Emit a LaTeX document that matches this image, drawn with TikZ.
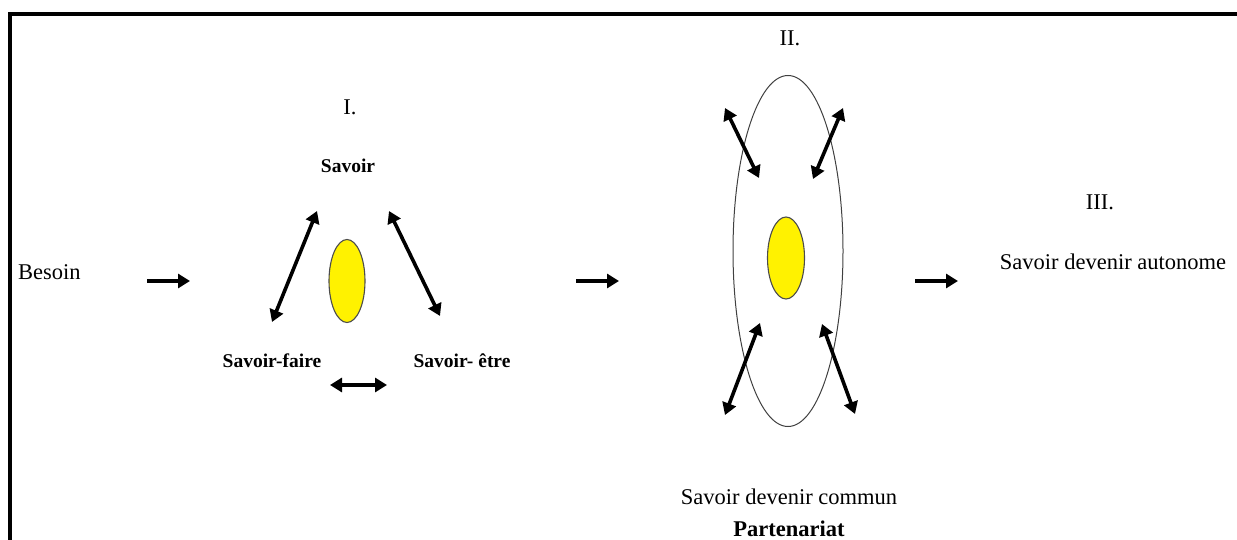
\documentclass[tikz,border=0pt]{standalone}
\usepackage{fontspec}
\setmainfont{Liberation Serif}
\usetikzlibrary{arrows.meta,shapes.geometric}
\tikzset{
  big/.style={font=\fontsize{22.5}{26}\selectfont, inner sep=0pt},
  lbl/.style={font=\bfseries\fontsize{19.5}{23}\selectfont, inner sep=0pt},
  core/.style={ellipse, draw=black!70, line width=1.1pt, fill=yellow, inner sep=0pt},
  dbl/.style={line width=3.6pt, {Triangle[length=12pt,width=14pt]}-{Triangle[length=12pt,width=14pt]}},
  sgl/.style={line width=3.6pt, -{Triangle[length=12pt,width=14pt]}},
}
\begin{document}
\begin{tikzpicture}[x=1pt,y=-1pt]
\useasboundingbox (0,0) rectangle (1237,540);
% frame
\draw[line width=3.2pt] (10,540) -- (10,14) -- (1237,14);
% texts
\node[big, anchor=west] (besoin) at (18,272) {Besoin};
\node[big] (t1) at (350,107) {I.};
\node[lbl] (sav) at (348,166) {Savoir};
\node[lbl] (sf) at (272,361) {Savoir-faire};
\node[lbl] (se) at (462,361) {Savoir- être};
\node[big] (t2) at (790,38) {II.};
\node[big] (sdc) at (789,497) {Savoir devenir commun};
\node[big, font=\bfseries\fontsize{22.5}{26}\selectfont] (part) at (789,529) {Partenariat};
\node[big] (t3) at (1100,202) {III.};
\node[big] (sda) at (1113,262) {Savoir devenir autonome};
% section I
\node[core, minimum width=36pt, minimum height=83pt] (c1) at (347,281) {};
\coordinate (a1) at (272,322); \coordinate (a2) at (317,211);
\coordinate (b1) at (389,211); \coordinate (b2) at (440,316);
\coordinate (h1) at (330,385); \coordinate (h2) at (387,385);
\draw[dbl] (a1) -- (a2);
\draw[dbl] (b1) -- (b2);
\draw[dbl] (h1) -- (h2);
% section II
\node[ellipse, draw=black!75, line width=1pt, minimum width=110pt, minimum height=351pt, inner sep=0pt] (ring) at (788,251) {};
\node[core, minimum width=37pt, minimum height=82pt] (c2) at (786,258) {};
\coordinate (p1) at (725,108); \coordinate (p2) at (759,178);
\coordinate (q1) at (843,108); \coordinate (q2) at (813,179);
\coordinate (r1) at (760,323); \coordinate (r2) at (725,415);
\coordinate (s1) at (822,324); \coordinate (s2) at (855,414);
\draw[dbl] (p1) -- (p2);
\draw[dbl] (q1) -- (q2);
\draw[dbl] (r1) -- (r2);
\draw[dbl] (s1) -- (s2);
% flow arrows
\coordinate (f1a) at (147,281); \coordinate (f1b) at (190,281);
\coordinate (f2a) at (576,281); \coordinate (f2b) at (619,281);
\coordinate (f3a) at (915,281); \coordinate (f3b) at (958,281);
\draw[sgl] (f1a) -- (f1b);
\draw[sgl] (f2a) -- (f2b);
\draw[sgl] (f3a) -- (f3b);
\end{tikzpicture}
\end{document}
